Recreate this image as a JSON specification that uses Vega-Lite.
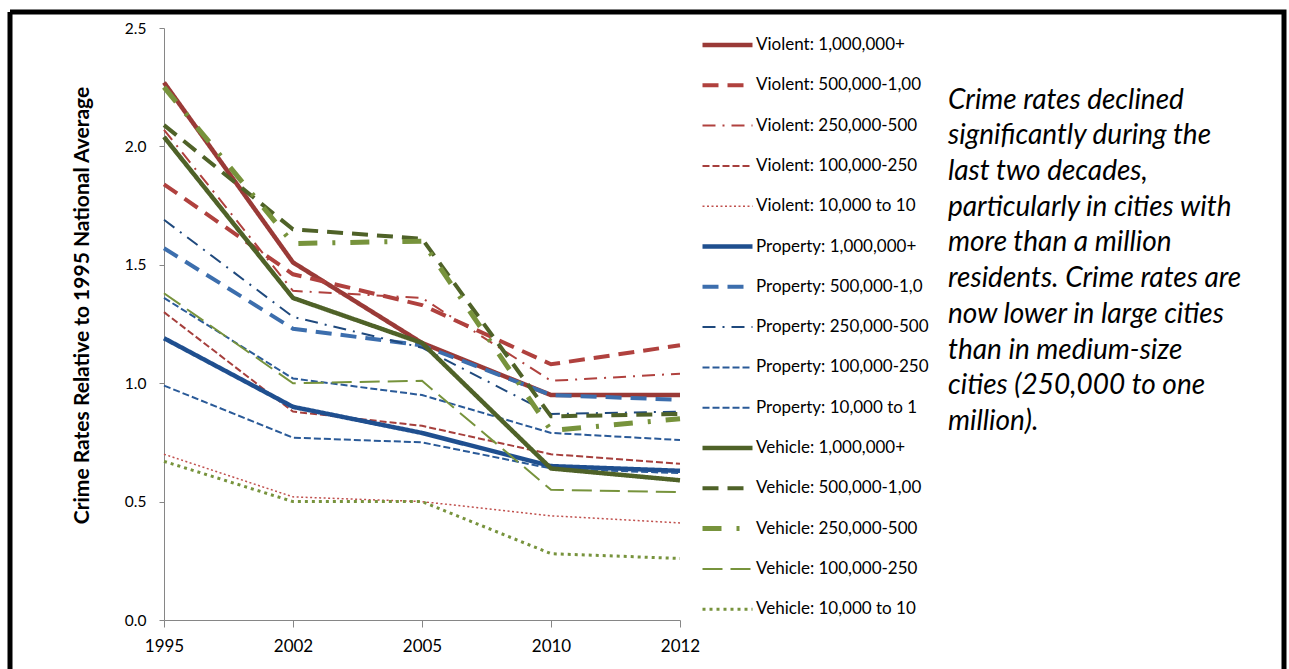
{
  "$schema": "https://vega.github.io/schema/vega-lite/v6.json",
  "width": 1274,
  "height": 657,
  "autosize": {"type": "none"},
  "padding": {"left": 10, "top": 12, "right": 5, "bottom": 0},
  "background": "white",
  "config": {
    "font": "Lato",
    "view": {"stroke": "black", "strokeWidth": 5, "strokeDash": [1931, 1274, 657, 0]}
  },
  "title": {
    "text": ["Crime rates declined", "significantly during the", "last two decades,", "particularly in cities with", "more than a million", "residents. Crime rates are", "now lower in large cities", "than in medium-size", "cities (250,000 to one", "million)."],
    "orient": "top",
    "anchor": "start",
    "frame": "group",
    "offset": 0,
    "dx": 938,
    "dy": 424,
    "baseline": "top",
    "font": "Lato",
    "fontSize": 28,
    "fontStyle": "italic",
    "fontWeight": "normal",
    "lineHeight": 35.7,
    "color": "black"
  },
  "data": {
    "values": [
      {"series": "Violent: 1,000,000+", "year": "1995", "value": 2.27},
      {"series": "Violent: 1,000,000+", "year": "2002", "value": 1.51},
      {"series": "Violent: 1,000,000+", "year": "2005", "value": 1.17},
      {"series": "Violent: 1,000,000+", "year": "2010", "value": 0.95},
      {"series": "Violent: 1,000,000+", "year": "2012", "value": 0.95},
      {"series": "Violent: 500,000-1,000,000", "year": "1995", "value": 1.84},
      {"series": "Violent: 500,000-1,000,000", "year": "2002", "value": 1.46},
      {"series": "Violent: 500,000-1,000,000", "year": "2005", "value": 1.33},
      {"series": "Violent: 500,000-1,000,000", "year": "2010", "value": 1.08},
      {"series": "Violent: 500,000-1,000,000", "year": "2012", "value": 1.16},
      {"series": "Violent: 250,000-500,000", "year": "1995", "value": 2.07},
      {"series": "Violent: 250,000-500,000", "year": "2002", "value": 1.39},
      {"series": "Violent: 250,000-500,000", "year": "2005", "value": 1.36},
      {"series": "Violent: 250,000-500,000", "year": "2010", "value": 1.01},
      {"series": "Violent: 250,000-500,000", "year": "2012", "value": 1.04},
      {"series": "Violent: 100,000-250,000", "year": "1995", "value": 1.30},
      {"series": "Violent: 100,000-250,000", "year": "2002", "value": 0.88},
      {"series": "Violent: 100,000-250,000", "year": "2005", "value": 0.82},
      {"series": "Violent: 100,000-250,000", "year": "2010", "value": 0.70},
      {"series": "Violent: 100,000-250,000", "year": "2012", "value": 0.66},
      {"series": "Violent: 10,000 to 100,000", "year": "1995", "value": 0.70},
      {"series": "Violent: 10,000 to 100,000", "year": "2002", "value": 0.52},
      {"series": "Violent: 10,000 to 100,000", "year": "2005", "value": 0.50},
      {"series": "Violent: 10,000 to 100,000", "year": "2010", "value": 0.44},
      {"series": "Violent: 10,000 to 100,000", "year": "2012", "value": 0.41},
      {"series": "Property: 1,000,000+", "year": "1995", "value": 1.19},
      {"series": "Property: 1,000,000+", "year": "2002", "value": 0.90},
      {"series": "Property: 1,000,000+", "year": "2005", "value": 0.79},
      {"series": "Property: 1,000,000+", "year": "2010", "value": 0.65},
      {"series": "Property: 1,000,000+", "year": "2012", "value": 0.63},
      {"series": "Property: 500,000-1,000,000", "year": "1995", "value": 1.57},
      {"series": "Property: 500,000-1,000,000", "year": "2002", "value": 1.23},
      {"series": "Property: 500,000-1,000,000", "year": "2005", "value": 1.16},
      {"series": "Property: 500,000-1,000,000", "year": "2010", "value": 0.95},
      {"series": "Property: 500,000-1,000,000", "year": "2012", "value": 0.93},
      {"series": "Property: 250,000-500,000", "year": "1995", "value": 1.69},
      {"series": "Property: 250,000-500,000", "year": "2002", "value": 1.28},
      {"series": "Property: 250,000-500,000", "year": "2005", "value": 1.15},
      {"series": "Property: 250,000-500,000", "year": "2010", "value": 0.87},
      {"series": "Property: 250,000-500,000", "year": "2012", "value": 0.88},
      {"series": "Property: 100,000-250,000", "year": "1995", "value": 1.36},
      {"series": "Property: 100,000-250,000", "year": "2002", "value": 1.02},
      {"series": "Property: 100,000-250,000", "year": "2005", "value": 0.95},
      {"series": "Property: 100,000-250,000", "year": "2010", "value": 0.79},
      {"series": "Property: 100,000-250,000", "year": "2012", "value": 0.76},
      {"series": "Property: 10,000 to 100,000", "year": "1995", "value": 0.99},
      {"series": "Property: 10,000 to 100,000", "year": "2002", "value": 0.77},
      {"series": "Property: 10,000 to 100,000", "year": "2005", "value": 0.75},
      {"series": "Property: 10,000 to 100,000", "year": "2010", "value": 0.64},
      {"series": "Property: 10,000 to 100,000", "year": "2012", "value": 0.62},
      {"series": "Vehicle: 1,000,000+", "year": "1995", "value": 2.04},
      {"series": "Vehicle: 1,000,000+", "year": "2002", "value": 1.36},
      {"series": "Vehicle: 1,000,000+", "year": "2005", "value": 1.17},
      {"series": "Vehicle: 1,000,000+", "year": "2010", "value": 0.64},
      {"series": "Vehicle: 1,000,000+", "year": "2012", "value": 0.59},
      {"series": "Vehicle: 500,000-1,000,000", "year": "1995", "value": 2.09},
      {"series": "Vehicle: 500,000-1,000,000", "year": "2002", "value": 1.65},
      {"series": "Vehicle: 500,000-1,000,000", "year": "2005", "value": 1.61},
      {"series": "Vehicle: 500,000-1,000,000", "year": "2010", "value": 0.86},
      {"series": "Vehicle: 500,000-1,000,000", "year": "2012", "value": 0.87},
      {"series": "Vehicle: 250,000-500,000", "year": "1995", "value": 2.25},
      {"series": "Vehicle: 250,000-500,000", "year": "2002", "value": 1.59},
      {"series": "Vehicle: 250,000-500,000", "year": "2005", "value": 1.60},
      {"series": "Vehicle: 250,000-500,000", "year": "2010", "value": 0.80},
      {"series": "Vehicle: 250,000-500,000", "year": "2012", "value": 0.85},
      {"series": "Vehicle: 100,000-250,000", "year": "1995", "value": 1.38},
      {"series": "Vehicle: 100,000-250,000", "year": "2002", "value": 1.00},
      {"series": "Vehicle: 100,000-250,000", "year": "2005", "value": 1.01},
      {"series": "Vehicle: 100,000-250,000", "year": "2010", "value": 0.55},
      {"series": "Vehicle: 100,000-250,000", "year": "2012", "value": 0.54},
      {"series": "Vehicle: 10,000 to 100,000", "year": "1995", "value": 0.67},
      {"series": "Vehicle: 10,000 to 100,000", "year": "2002", "value": 0.50},
      {"series": "Vehicle: 10,000 to 100,000", "year": "2005", "value": 0.50},
      {"series": "Vehicle: 10,000 to 100,000", "year": "2010", "value": 0.28},
      {"series": "Vehicle: 10,000 to 100,000", "year": "2012", "value": 0.26}
    ]
  },
  "mark": {"type": "line"},
  "encoding": {
    "x": {
      "field": "year",
      "type": "ordinal",
      "scale": {"type": "point", "range": [154, 670], "padding": 0},
      "axis": {
        "title": null,
        "offset": -49,
        "labelAngle": 0,
        "labelFont": "Lato",
        "labelFontSize": 17,
        "labelColor": "black",
        "labelPadding": 11,
        "tickSize": 7,
        "tickColor": "#868686",
        "domainColor": "#868686",
        "grid": false
      }
    },
    "y": {
      "field": "value",
      "type": "quantitative",
      "scale": {"domain": [0, 2.5], "range": [608, 16], "nice": false, "zero": true},
      "axis": {
        "title": "Crime Rates Relative to 1995 National Average",
        "titleFont": "Lato",
        "titleFontSize": 21,
        "titleFontWeight": "bold",
        "titleColor": "black",
        "titlePadding": 32,
        "titleY": 293,
        "offset": -154,
        "values": [0, 0.5, 1, 1.5, 2, 2.5],
        "format": ".1f",
        "labelFont": "Lato",
        "labelFontSize": 15.5,
        "labelColor": "black",
        "labelPadding": 13,
        "tickSize": 5,
        "tickColor": "#868686",
        "domainColor": "#868686",
        "grid": false
      }
    },
    "color": {
      "field": "series",
      "type": "nominal",
      "scale": {
        "domain": ["Violent: 1,000,000+", "Violent: 500,000-1,000,000", "Violent: 250,000-500,000", "Violent: 100,000-250,000", "Violent: 10,000 to 100,000", "Property: 1,000,000+", "Property: 500,000-1,000,000", "Property: 250,000-500,000", "Property: 100,000-250,000", "Property: 10,000 to 100,000", "Vehicle: 1,000,000+", "Vehicle: 500,000-1,000,000", "Vehicle: 250,000-500,000", "Vehicle: 100,000-250,000", "Vehicle: 10,000 to 100,000"],
        "range": ["#9A3A37", "#B0413E", "#B0413E", "#A63F3C", "#C0504D", "#1F4F8F", "#3C6EAD", "#1F497D", "#2A5A98", "#2A5A98", "#4F6228", "#4F6228", "#77933C", "#77933C", "#77933C"]
      },
      "legend": {
        "title": null,
        "orient": "none",
        "legendX": 690,
        "legendY": 23,
        "padding": 0,
        "symbolType": "stroke",
        "symbolSize": 2500,
        "clipHeight": 20,
        "rowPadding": 20.3,
        "labelFont": "Lato",
        "labelFontSize": 17,
        "labelColor": "black",
        "labelOffset": 1,
        "labelLimit": 400,
        "labelExpr": "substring(datum.label, 0, substring(datum.label, 20, 21) == ',' ? 20 : 21)"
      }
    },
    "strokeDash": {
      "field": "series",
      "type": "nominal",
      "scale": {
        "domain": ["Violent: 1,000,000+", "Violent: 500,000-1,000,000", "Violent: 250,000-500,000", "Violent: 100,000-250,000", "Violent: 10,000 to 100,000", "Property: 1,000,000+", "Property: 500,000-1,000,000", "Property: 250,000-500,000", "Property: 100,000-250,000", "Property: 10,000 to 100,000", "Vehicle: 1,000,000+", "Vehicle: 500,000-1,000,000", "Vehicle: 250,000-500,000", "Vehicle: 100,000-250,000", "Vehicle: 10,000 to 100,000"],
        "range": [[1, 0], [16, 9], [13, 7, 2, 7], [7, 3], [2, 2.5], [1, 0], [16, 9], [13, 7, 2, 7], [7, 3], [7, 3], [1, 0], [16, 9], [19, 15, 3, 15], [20, 8], [3, 4]]
      }
    },
    "strokeWidth": {
      "field": "series",
      "type": "nominal",
      "scale": {
        "type": "ordinal",
        "domain": ["Violent: 1,000,000+", "Violent: 500,000-1,000,000", "Violent: 250,000-500,000", "Violent: 100,000-250,000", "Violent: 10,000 to 100,000", "Property: 1,000,000+", "Property: 500,000-1,000,000", "Property: 250,000-500,000", "Property: 100,000-250,000", "Property: 10,000 to 100,000", "Vehicle: 1,000,000+", "Vehicle: 500,000-1,000,000", "Vehicle: 250,000-500,000", "Vehicle: 100,000-250,000", "Vehicle: 10,000 to 100,000"],
        "range": [4.5, 4, 2, 2, 1.5, 4.5, 4, 2, 2, 2, 4.5, 4, 5, 2, 3]
      }
    }
  }
}
